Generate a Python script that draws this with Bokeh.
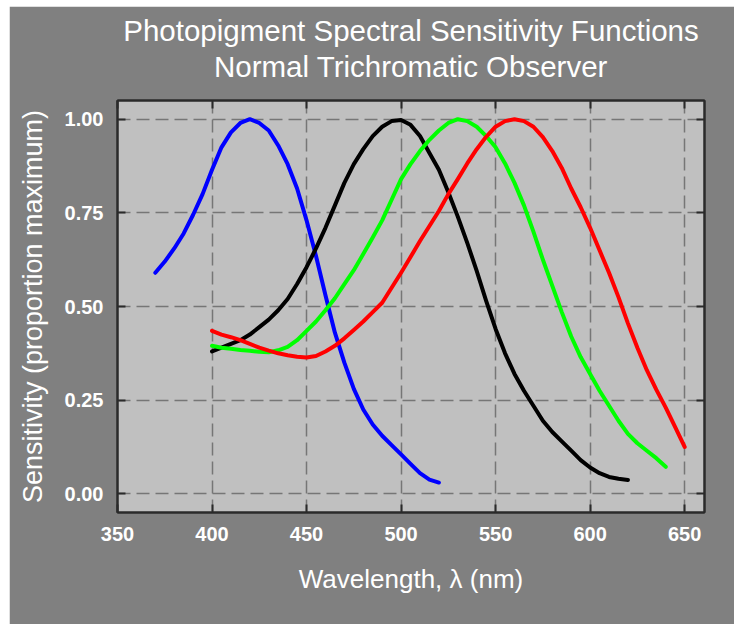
from bokeh.plotting import figure
from bokeh.models import LinearAxis, Title, FixedTicker, Range1d, NumeralTickFormatter
from bokeh.embed import file_html
from bokeh.resources import INLINE

# ---- data ----
x_ticks = [350, 400, 450, 500, 550, 600, 650]
y_ticks = [0.0, 0.25, 0.5, 0.75, 1.0]

title_line1 = "Photopigment Spectral Sensitivity Functions"
title_line2 = "Normal Trichromatic Observer"
x_label = "Wavelength, \u03bb (nm)"
y_label = "Sensitivity (proportion maximum)"

s_wl = [370, 375, 380, 385, 390, 395, 400, 405, 410, 415, 420, 425, 430, 435, 440, 445,
        450, 455, 460, 465, 470, 475, 480, 485, 490, 495, 500, 505, 510, 515, 520]
s_val = [0.59, 0.62, 0.655, 0.695, 0.745, 0.80, 0.865, 0.925, 0.965, 0.99, 1.0, 0.99,
         0.97, 0.93, 0.88, 0.815, 0.73, 0.635, 0.53, 0.43, 0.35, 0.28, 0.225, 0.185,
         0.155, 0.13, 0.105, 0.08, 0.055, 0.038, 0.03]

rod_wl = [400, 405, 410, 415, 420, 425, 430, 435, 440, 445, 450, 455, 460, 465, 470, 475,
          480, 485, 490, 495, 500, 505, 510, 515, 520, 525, 530, 535, 540, 545, 550, 555,
          560, 565, 570, 575, 580, 585, 590, 595, 600, 605, 610, 615, 620]
rod_val = [0.38, 0.39, 0.40, 0.41, 0.425, 0.445, 0.465, 0.49, 0.52, 0.56, 0.605, 0.655,
           0.71, 0.77, 0.83, 0.88, 0.92, 0.955, 0.98, 0.995, 0.998, 0.985, 0.955, 0.91,
           0.865, 0.805, 0.74, 0.67, 0.595, 0.515, 0.44, 0.375, 0.32, 0.275, 0.235, 0.195,
           0.165, 0.14, 0.115, 0.09, 0.07, 0.055, 0.045, 0.04, 0.037]

m_wl = [400, 405, 410, 415, 420, 425, 430, 435, 440, 445, 450, 455, 460, 465, 470, 475,
        480, 485, 490, 495, 500, 505, 510, 515, 520, 525, 530, 535, 540, 545, 550, 555,
        560, 565, 570, 575, 580, 585, 590, 595, 600, 605, 610, 615, 620, 625, 630, 635, 640]
m_val = [0.395, 0.39, 0.387, 0.384, 0.382, 0.379, 0.378, 0.383, 0.392, 0.41, 0.435, 0.46,
         0.49, 0.522, 0.56, 0.597, 0.64, 0.684, 0.73, 0.785, 0.84, 0.88, 0.915, 0.945,
         0.97, 0.99, 1.0, 0.995, 0.98, 0.955, 0.925, 0.882, 0.83, 0.77, 0.70, 0.625,
         0.555, 0.485, 0.42, 0.365, 0.32, 0.275, 0.235, 0.195, 0.16, 0.135, 0.115, 0.095, 0.072]

l_wl = [400, 405, 410, 415, 420, 425, 430, 435, 440, 445, 450, 455, 460, 465, 470, 475,
        480, 485, 490, 495, 500, 505, 510, 515, 520, 525, 530, 535, 540, 545, 550, 555,
        560, 565, 570, 575, 580, 585, 590, 595, 600, 605, 610, 615, 620, 625, 630, 635,
        640, 645, 650]
l_val = [0.435, 0.425, 0.418, 0.41, 0.40, 0.39, 0.382, 0.375, 0.37, 0.366, 0.364, 0.368,
         0.38, 0.395, 0.415, 0.437, 0.46, 0.485, 0.51, 0.55, 0.59, 0.632, 0.675, 0.715,
         0.755, 0.80, 0.84, 0.882, 0.92, 0.953, 0.98, 0.995, 1.0, 0.995, 0.98, 0.952,
         0.915, 0.87, 0.815, 0.765, 0.71, 0.65, 0.59, 0.525, 0.455, 0.39, 0.33, 0.278,
         0.23, 0.178, 0.125]

series = [
    (s_wl, s_val, "#0000ff"),
    (rod_wl, rod_val, "#000000"),
    (m_wl, m_val, "#00ff00"),
    (l_wl, l_val, "#ff0000"),
]

FONT = "Liberation Sans"
PANEL = "#808080"
BORDER = "#2a2a2a"

p = figure(width=725, height=618,
           x_range=Range1d(350, 660.5), y_range=Range1d(-0.05, 1.05),
           output_backend="svg", toolbar_location=None,
           min_border_left=108, min_border_right=30,
           min_border_top=94, min_border_bottom=112,
           background_fill_color="#c0c0c0", border_fill_color=PANEL,
           outline_line_color=BORDER, outline_line_width=2)
p.margin = (6, 0, 0, 9)

for wl, val, col in series:
    p.line(wl, val, line_color=col, line_width=4, line_cap="round", line_join="round")

# grid
p.xgrid.ticker = FixedTicker(ticks=x_ticks)
p.ygrid.ticker = FixedTicker(ticks=y_ticks)
for g in (p.xgrid, p.ygrid):
    g.grid_line_color = "#767676"
    g.grid_line_width = 1.5
    g.grid_line_dash = "13 6"

def style_axis(ax, ticks, labels=True):
    ax.ticker = FixedTicker(ticks=ticks)
    ax.major_tick_in = 8
    ax.major_tick_out = 0
    ax.minor_tick_line_color = None
    ax.major_tick_line_color = BORDER
    ax.major_tick_line_width = 2
    ax.axis_line_color = BORDER
    ax.axis_line_width = 2
    ax.axis_label_text_color = "white"
    ax.axis_label_text_font = FONT
    ax.axis_label_text_font_style = "normal"
    if labels:
        ax.major_label_text_color = "white"
        ax.major_label_text_font = FONT
        ax.major_label_text_font_size = "20px"
        ax.major_label_text_font_style = "bold"
        ax.major_label_standoff = 14
    else:
        ax.major_label_text_color = None
        ax.major_label_text_font_size = "1px"
        ax.major_label_standoff = 0

xa = p.xaxis[0]
ya = p.yaxis[0]
style_axis(xa, x_ticks)
style_axis(ya, y_ticks)
xa.axis_label = x_label
ya.axis_label = y_label
xa.axis_label_text_font_size = "26px"
ya.axis_label_text_font_size = "27px"
xa.axis_label_standoff = 20
ya.axis_label_standoff = 14
ya.formatter = NumeralTickFormatter(format="0.00")

# top axis: ticks only, its label carries the second title line
top = LinearAxis()
style_axis(top, x_ticks, labels=False)
top.axis_label = title_line2
top.axis_label_text_font_size = "29.5px"
top.axis_label_standoff = 18
p.add_layout(top, "above")
right = LinearAxis()
style_axis(right, y_ticks, labels=False)
p.add_layout(right, "right")

p.title.visible = False
p.add_layout(Title(text=title_line1, align="center", text_color="white", text_font=FONT,
                   text_font_size="29.5px", text_font_style="normal", standoff=0), "above")

open("out.html", "w").write(file_html(p, INLINE))
